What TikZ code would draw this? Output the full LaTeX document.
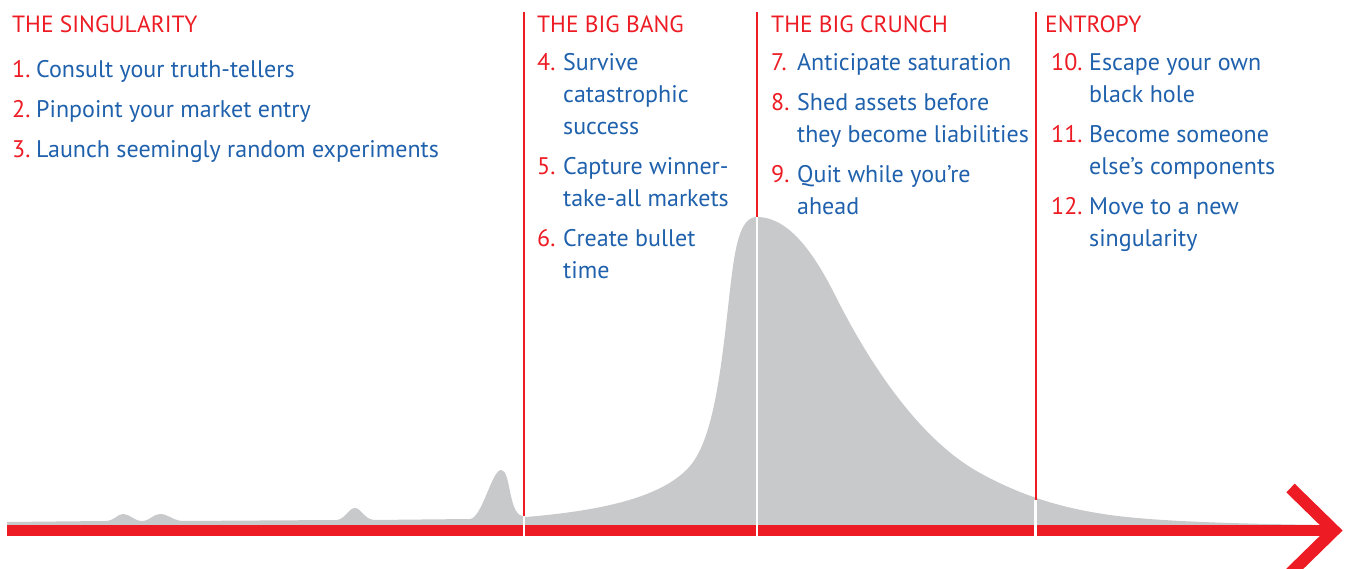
\documentclass[tikz,border=0pt]{standalone}
\usepackage{fontspec}
\setmainfont{PT Sans}
\definecolor{axred}{HTML}{ED1C24}
\definecolor{txtblue}{HTML}{1F61AC}
\definecolor{curvegray}{HTML}{C8C9CB}
\tikzset{
  txt/.style={anchor=base west, inner sep=0pt, font=\fontsize{24}{28}\selectfont},
  head/.style={anchor=base west, inner sep=0pt, font=\fontsize{23.5}{28}\selectfont, text=axred},
  num/.style={txt, text=axred},
  itm/.style={txt, text=txtblue},
  divider/.style={draw=axred, line width=2pt},
  gapline/.style={draw=white, line width=2.5pt},
}
\begin{document}
\begin{tikzpicture}[x=1pt,y=-1pt]
\clip (0,0) rectangle (1352,569);
\fill[white] (0,0) rectangle (1352,569);
% curve
\fill[curvegray] (7,522) -- (105,521)
  .. controls (115,521) and (117,514) .. (123,514)
  .. controls (130,514) and (134,521) .. (142,521)
  .. controls (150,521) and (153,514) .. (160,514)
  .. controls (168,514) and (172,520) .. (182,521)
  -- (337,520)
  .. controls (345,519) and (349,508) .. (355,508)
  .. controls (361,508) and (364,519) .. (374,520)
  -- (470,519)
  .. controls (482,518) and (492,470) .. (501,470)
  .. controls (511,470) and (508,512) .. (522,516)
  -- (526,517)
  .. controls (610,510) and (665,495) .. (690,466)
  .. controls (715,437) and (722,360) .. (730,290)
  .. controls (735,246) and (740,217) .. (757,217)
  .. controls (785,217) and (810,245) .. (835,295)
  .. controls (870,365) and (920,440) .. (980,473)
  .. controls (1020,495) and (1060,508) .. (1110,515)
  .. controls (1160,522) and (1250,524) .. (1330,525)
  -- (1330,531) -- (7,531) -- cycle;
% axis
\coordinate (axL) at (7,530.5);
\coordinate (axR) at (1334,530.5);
\coordinate (tipU) at (1290.5,488);
\coordinate (tipD) at (1290.5,573);
\draw[axred, line width=11pt] (axL) -- (axR);
\draw[axred, line width=12pt, miter limit=10] (tipU) -- (axR) -- (tipD);
% dividers
\coordinate (d1t) at (524,12);  \coordinate (d1c) at (524,516); \coordinate (d1b) at (524,537);
\coordinate (d2t) at (757,12);  \coordinate (d2c) at (757,217); \coordinate (d2b) at (757,537);
\coordinate (d3t) at (1035.5,12); \coordinate (d3c) at (1035.5,500); \coordinate (d3b) at (1035.5,537);
\draw[gapline] (d1c) -- (d1b);
\draw[gapline] (d2c) -- (d2b);
\draw[gapline] (d3c) -- (d3b);
\draw[divider] (d1t) -- (d1c);
\draw[divider] (d2t) -- (d2c);
\draw[divider] (d3t) -- (d3c);
% column 1
\node[head] (h1) at (12,33) {THE SINGULARITY};
\node[num] (n1) at (12,78) {1.};  \node[itm] (t1) at (36,78) {Consult your truth-tellers};
\node[num] (n2) at (12,118) {2.}; \node[itm] (t2) at (36,118) {Pinpoint your market entry};
\node[num] (n3) at (12,158) {3.}; \node[itm] (t3) at (36,158) {Launch seemingly random experiments};
% column 2
\node[head] (h2) at (537,33) {THE BIG BANG};
\node[num] (n4) at (537,71) {4.};  \node[itm] (t4a) at (563,71) {Survive};
\node[itm] (t4b) at (563,103) {catastrophic};
\node[itm] (t4c) at (563,135) {success};
\node[num] (n5) at (537,175) {5.}; \node[itm] (t5a) at (563,175) {Capture winner-};
\node[itm] (t5b) at (563,207) {take-all markets};
\node[num] (n6) at (537,247) {6.}; \node[itm] (t6a) at (563,247) {Create bullet};
\node[itm] (t6b) at (563,279) {time};
% column 3
\node[head] (h3) at (771,33) {THE BIG CRUNCH};
\node[num] (n7) at (771,71) {7.};  \node[itm] (t7) at (797,71) {Anticipate saturation};
\node[num] (n8) at (771,111) {8.}; \node[itm] (t8a) at (797,111) {Shed assets before};
\node[itm] (t8b) at (797,143) {they become liabilities};
\node[num] (n9) at (771,183) {9.}; \node[itm] (t9a) at (797,183) {Quit while you’re};
\node[itm] (t9b) at (797,215) {ahead};
% column 4
\node[head] (h4) at (1045,33) {ENTROPY};
\node[num] (n10) at (1051,71) {10.};  \node[itm] (t10a) at (1089,71) {Escape your own};
\node[itm] (t10b) at (1089,103) {black hole};
\node[num] (n11) at (1051,143) {11.}; \node[itm] (t11a) at (1089,143) {Become someone};
\node[itm] (t11b) at (1089,175) {else’s components};
\node[num] (n12) at (1051,215) {12.}; \node[itm] (t12a) at (1089,215) {Move to a new};
\node[itm] (t12b) at (1089,247) {singularity};
\end{tikzpicture}
\end{document}
